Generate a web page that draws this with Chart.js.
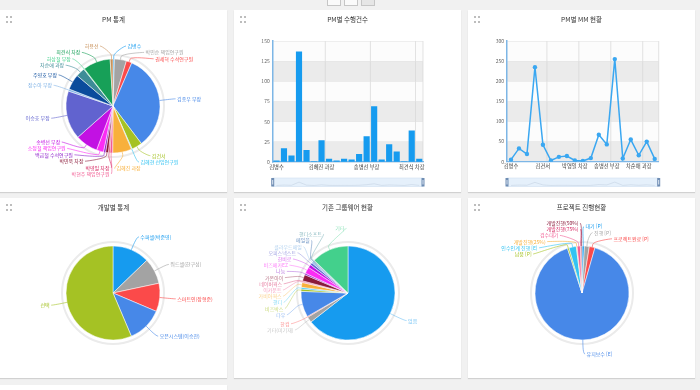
<!DOCTYPE html>
<html lang="ko">
<head>
<meta charset="UTF-8">
<title>PM 대시보드</title>
<style>
  html, body { margin: 0; padding: 0; }
  body {
    width: 700px; height: 390px; overflow: hidden; position: relative;
    background: #f1f1f1;
    font-family: "Noto Sans CJK KR", "Noto Sans", sans-serif;
  }
  .panel { position: absolute; width: 227px; background: #fff; box-shadow: 0 1px 1px rgba(0,0,0,0.13); }
  .panel canvas { position: absolute; left: 0; top: 0; }
  .grip {
    position: absolute; left: 6px; top: 6px; width: 2px; height: 2px; background: #bdbdbd;
    box-shadow: 4px 0 #bdbdbd, 0 5px #bdbdbd, 4px 5px #bdbdbd;
  }
  .tools { position: absolute; top: -2px; left: 327px; display: flex; gap: 3px; }
  .tools span { display: block; width: 12px; height: 6px; border: 1px solid #c6c6c6; background: #fafafa; }
</style>
</head>
<body>
  <div class="tools"><span></span><span></span><span style="background:#e6e6e6"></span></div>

  <div class="panel" style="left:0;top:10px;height:182px"><canvas id="pmPie" width="227" height="182"></canvas><div class="grip"></div></div>
  <div class="panel" style="left:234px;top:10px;height:182px"><canvas id="caseBar" width="227" height="182"></canvas><div class="grip"></div></div>
  <div class="panel" style="left:468px;top:10px;height:182px"><canvas id="mmLine" width="227" height="182"></canvas><div class="grip"></div></div>

  <div class="panel" style="left:0;top:198px;height:180px"><canvas id="devPie" width="227" height="180"></canvas><div class="grip"></div></div>
  <div class="panel" style="left:234px;top:198px;height:180px"><canvas id="gwPie" width="227" height="180"></canvas><div class="grip"></div></div>
  <div class="panel" style="left:468px;top:198px;height:180px"><canvas id="projPie" width="227" height="180"></canvas><div class="grip"></div></div>

  <div class="panel" style="left:0;top:385px;height:20px"></div>

<script src="https://cdn.jsdelivr.net/npm/chart.js"></script>
<script>
// 데이터
const pmNames = ['김병수', '박민순 책임연구원', '권세혁 수석연구원', '김종우 부장', '김건서', '김혜현 선임연구원',
  '김혜진 과장', '박현주 책임연구원', '박영일 차장', '박민욱 차장', '백금철 수석연구원', '소정철 책임연구원',
  '송병선 부장', '이승호 부장', '장수아 부장', '주영호 부장', '차순애 과장', '허상철 부장', '최견식 차장', '허용선'];
const pmCaseCounts = [2, 17, 8, 137, 15, 1, 27, 4, 2, 4, 3, 10, 32, 69, 3, 22, 13, 1, 39, 4];
const caseTicks = [0, 25, 50, 75, 100, 125, 150];

const mmNames = ['김병수', '박민순 책임연구원', '권세혁 수석연구원', '김종우 부장', '김건서', '김혜현 선임연구원',
  '김혜진 과장', '박현주 책임연구원', '박영일 차장', '박민욱 차장', '백금철 수석연구원', '소정철 책임연구원',
  '송병선 부장', '이승호 부장', '장수아 부장', '주영호 부장', '차순애 과장', '허상철 부장', '최견식 차장'];
const mmValues = [5, 33, 19, 235, 42, 3, 12, 14, 3, 2, 9, 67, 43, 255, 8, 55, 16, 50, 7];
const mmTicks = [0, 50, 100, 150, 200, 250, 300];

const devTeams = ['수퍼셀(박준영)', '워드셀(한구섭)', '스마트인(장형준)', '오픈시스템(이승찬)', '선택'];
const devCounts = [46, 32, 35, 44, 203];

const gwNames = ['없음', '기타(미기재)', '한컴', '다우', '비즈박스', '핸디', '가비아웍스', '이카운트',
  '네이버웍스', '가온아이', '나눔', '비즈메카EZ', '한비로', '오피스넥스트', '클라우드메일', '메일플', '핸디소프트', '기타'];
const gwCounts = [232, 7, 1, 32, 3, 2, 6, 1, 1, 8, 2, 8, 4, 3, 2, 1, 1, 46];

const projStatus = ['대기 [P]', '진행 [P]', '프로젝트완료 [P]', '유지보수 [E]', '납품 [P]', '인수인계 진행 [E]',
  '개발진행(25%)', '검수대기', '개발진행(75%)', '개발진행(50%)'];
const projCounts = [3, 6, 7, 326, 2, 9, 1, 4, 1, 1];

const palette = ['#169bef', '#a3a3a3', '#fb4a4a', '#4788e8', '#a5c224', '#33c3f2', '#f8b03c', '#f25c93',
  '#d41f5c', '#8b1a3a', '#8c21c9', '#fb2cf5', '#c211e3', '#6163cf', '#7fb2e6', '#0a4c9c',
  '#3d8c97', '#43d08c', '#17a058', '#c8915a'];

const FONT = '"Noto Sans CJK KR", "Noto Sans", sans-serif';
Chart.defaults.font.family = FONT;
Chart.defaults.animation = false;
Chart.defaults.plugins.legend.display = false;
Chart.defaults.plugins.tooltip.enabled = false;

// 패널 제목
const panelTitle = {
  id: 'panelTitle',
  afterDraw(chart, args, opts) {
    const ctx = chart.ctx;
    ctx.save();
    ctx.font = '6.5px ' + FONT;
    ctx.fillStyle = '#333';
    ctx.textAlign = 'center';
    ctx.textBaseline = 'middle';
    ctx.fillText(opts.text, chart.width / 2, opts.y);
    ctx.restore();
  }
};

// 파이 바깥 테두리
const pieRing = {
  id: 'pieRing',
  beforeDatasetsDraw(chart) {
    const arc = chart.getDatasetMeta(0).data[0];
    if (!arc) return;
    const ctx = chart.ctx;
    ctx.save();
    ctx.strokeStyle = '#ebebeb';
    ctx.lineWidth = 2;
    ctx.beginPath();
    ctx.arc(arc.x, arc.y, arc.outerRadius + 4, 0, Math.PI * 2);
    ctx.stroke();
    ctx.restore();
  }
};

function spreadLabels(list, gap, minY, maxY) {
  list.sort((a, b) => a.y0 - b.y0);
  const groups = list.map(it => ({ items: [it] }));
  const place = g => {
    let m = 0;
    g.items.forEach((it, k) => { m += it.y0 - k * gap; });
    m /= g.items.length;
    g.top = Math.min(Math.max(m, minY), maxY - (g.items.length - 1) * gap);
  };
  groups.forEach(place);
  let changed = true;
  while (changed) {
    changed = false;
    for (let k = 1; k < groups.length; k++) {
      const a = groups[k - 1], b = groups[k];
      if (a.top + a.items.length * gap > b.top + 0.01) {
        a.items = a.items.concat(b.items);
        groups.splice(k, 1);
        place(a);
        changed = true;
        break;
      }
    }
  }
  groups.forEach(g => g.items.forEach((it, k) => { it.y = g.top + k * gap; }));
}

// 파이 데이터 라벨 (연결선)
const pieLabels = {
  id: 'pieLabels',
  afterDatasetsDraw(chart, args, opts) {
    const meta = chart.getDatasetMeta(0);
    const ds = chart.data.datasets[0];
    const ctx = chart.ctx;
    const items = meta.data.map((arc, i) => {
      const a = (arc.startAngle + arc.endAngle) / 2;
      const r = arc.outerRadius, R = r + opts.dist;
      return { i, a, cx: arc.x, cy: arc.y, r, R, side: Math.cos(a) >= -0.001 ? 1 : -1, y0: arc.y + R * Math.sin(a) };
    });
    spreadLabels(items.filter(it => it.side > 0), opts.gap, opts.top, opts.bottom);
    spreadLabels(items.filter(it => it.side < 0), opts.gap, opts.top, opts.bottom);

    ctx.save();
    ctx.globalAlpha = opts.alpha || 1;
    ctx.font = '5px ' + FONT;
    ctx.textBaseline = 'middle';
    ctx.lineWidth = 0.6;
    items.forEach(it => {
      const color = ds.backgroundColor[it.i];
      const dy = it.y - it.cy;
      const lx = it.cx + it.side * Math.sqrt(Math.max(it.R * it.R - dy * dy, 0));
      const c = Math.cos(it.a), s = Math.sin(it.a);
      const ex = it.cx + it.r * c, ey = it.cy + it.r * s;
      const bx = it.cx + (it.r + 3) * c, by = it.cy + (it.r + 3) * s;
      ctx.strokeStyle = color;
      ctx.beginPath();
      ctx.moveTo(lx + it.side * 2, it.y);
      ctx.bezierCurveTo(lx, it.y, 2 * bx - ex, 2 * by - ey, bx, by);
      ctx.lineTo(ex, ey);
      ctx.stroke();
      ctx.fillStyle = color;
      ctx.textAlign = it.side > 0 ? 'left' : 'right';
      ctx.fillText(chart.data.labels[it.i], lx + it.side * 3.5, it.y);
    });
    ctx.restore();
  }
};

function pieChart(id, labels, values, title, cx, cy, labelOpts) {
  const canvas = document.getElementById(id);
  const W = canvas.width, H = canvas.height, box = 60;
  return new Chart(canvas, {
    type: 'pie',
    data: {
      labels: labels,
      datasets: [{ data: values, backgroundColor: palette.slice(0, values.length), borderColor: '#fff', borderWidth: 0.5 }]
    },
    options: {
      responsive: false,
      radius: 47,
      layout: { padding: { left: cx - box, right: W - cx - box, top: cy - box, bottom: H - cy - box } },
      plugins: { panelTitle: { text: title, y: 10 }, pieLabels: labelOpts }
    },
    plugins: [pieRing, pieLabels, panelTitle]
  });
}

// 밴드, 세로 격자, 네비게이터
const plotDecor = {
  id: 'plotDecor',
  beforeDraw(chart, args, opts) {
    const { ctx, chartArea: a, scales: { x, y } } = chart;
    ctx.save();
    ctx.fillStyle = '#fcfcfc';
    ctx.fillRect(a.left, a.top, a.width, a.height);
    ctx.fillStyle = '#ebebeb';
    const t = y.ticks;
    for (let k = 0; k + 1 < t.length; k += 2) {
      const y0 = y.getPixelForValue(t[k].value), y1 = y.getPixelForValue(t[k + 1].value);
      ctx.fillRect(a.left, y1, a.width, y0 - y1);
    }
    ctx.strokeStyle = '#d6d6d6';
    ctx.lineWidth = 0.7;
    const n = chart.data.labels.length;
    for (let i = opts.step; i < n; i += opts.step) {
      const px = x.getPixelForValue(i + 0.5);
      ctx.beginPath(); ctx.moveTo(px, a.top); ctx.lineTo(px, a.bottom); ctx.stroke();
    }
    ctx.beginPath(); ctx.moveTo(a.right, a.top); ctx.lineTo(a.right, a.bottom); ctx.stroke();
    ctx.restore();
  },
  afterDraw(chart, args, opts) {
    const { ctx, chartArea: a, scales: { x } } = chart;
    const top = opts.navTop, h = opts.navHeight;
    ctx.save();
    ctx.fillStyle = '#e5f0fb';
    ctx.fillRect(a.left, top, a.width, h);
    ctx.strokeStyle = '#cfe0f2';
    ctx.lineWidth = 0.6;
    ctx.strokeRect(a.left, top, a.width, h);
    const vals = chart.data.datasets[0].data;
    const max = Math.max(...vals);
    ctx.beginPath();
    vals.forEach((v, i) => {
      const px = x.getPixelForValue(i), py = top + h - 1 - (v / max) * h * 0.4;
      if (i === 0) ctx.moveTo(px, py); else ctx.lineTo(px, py);
    });
    ctx.strokeStyle = 'rgba(140,160,185,0.35)';
    ctx.stroke();
    ctx.fillStyle = '#6f8db3';
    [a.left, a.right].forEach(px => {
      ctx.fillRect(px - 1.5, top, 3, h);
      ctx.fillStyle = '#dfe8f3';
      ctx.fillRect(px - 0.5, top + 2, 1, h - 4);
      ctx.fillStyle = '#6f8db3';
    });
    ctx.restore();
  }
};

function cartesianScales(ticksArr, yWidth, xHeight, step) {
  return {
    x: {
      offset: true,
      grid: { display: false, drawTicks: false },
      border: { display: true, color: '#7db6e6', width: 1.2 },
      ticks: {
        autoSkip: false, maxRotation: 0, minRotation: 0, padding: 1.5, color: '#444', font: { size: 5.3 },
        callback(v, i) { return i % step === 0 ? this.getLabelForValue(v) : ''; }
      },
      afterFit(s) { s.height = xHeight; }
    },
    y: {
      min: ticksArr[0], max: ticksArr[ticksArr.length - 1],
      afterBuildTicks(s) { s.ticks = ticksArr.map(v => ({ value: v })); },
      grid: { color: '#e0e0e0', lineWidth: 0.5, drawTicks: false },
      border: { display: true, color: '#7db6e6', width: 1.5 },
      ticks: { padding: 3, color: '#666', font: { size: 5 } },
      afterFit(s) { s.width = yWidth; }
    }
  };
}

// PM 통계
pieChart('pmPie', pmNames, pmCaseCounts, 'PM 통계', 113, 96, { dist: 14, gap: 6.4, top: 36, bottom: 164 });

// PM별 수행건수
new Chart(document.getElementById('caseBar'), {
  type: 'bar',
  data: {
    labels: pmNames,
    datasets: [{ data: pmCaseCounts, backgroundColor: '#169bef', barPercentage: 0.82, categoryPercentage: 1 }]
  },
  options: {
    responsive: false,
    layout: { padding: { left: 0, top: 31, right: 38, bottom: 0 } },
    scales: cartesianScales(caseTicks, 38.7, 30, 6),
    plugins: { panelTitle: { text: 'PM별 수행건수', y: 10 }, plotDecor: { step: 6, navTop: 168, navHeight: 8.5 } }
  },
  plugins: [plotDecor, panelTitle]
});

// PM별 MM 현황
new Chart(document.getElementById('mmLine'), {
  type: 'line',
  data: {
    labels: mmNames,
    datasets: [{
      data: mmValues, borderColor: '#3aa7f1', backgroundColor: '#3aa7f1', borderWidth: 1.5,
      pointRadius: 2.2, pointBorderWidth: 0, tension: 0
    }]
  },
  options: {
    responsive: false,
    layout: { padding: { left: 0, top: 31, right: 36.3, bottom: 0 } },
    scales: cartesianScales(mmTicks, 39, 30.3, 4),
    plugins: { panelTitle: { text: 'PM별 MM 현황', y: 10 }, plotDecor: { step: 4, navTop: 168, navHeight: 8.5 } }
  },
  plugins: [plotDecor, panelTitle]
});

// 개발별 통계
pieChart('devPie', devTeams, devCounts, '개발별 통계', 113, 95, { dist: 14, gap: 6.4, top: 25, bottom: 170 });

// 기존 그룹웨어 현황
pieChart('gwPie', gwNames, gwCounts, '기존 그룹웨어 현황', 114, 95, { dist: 16, gap: 6.2, top: 30, bottom: 170, alpha: 0.6 });

// 프로젝트 진행현황
pieChart('projPie', projStatus, projCounts, '프로젝트 진행현황', 114, 95, { dist: 14, gap: 6.2, top: 25, bottom: 170 });
</script>
</body>
</html>
